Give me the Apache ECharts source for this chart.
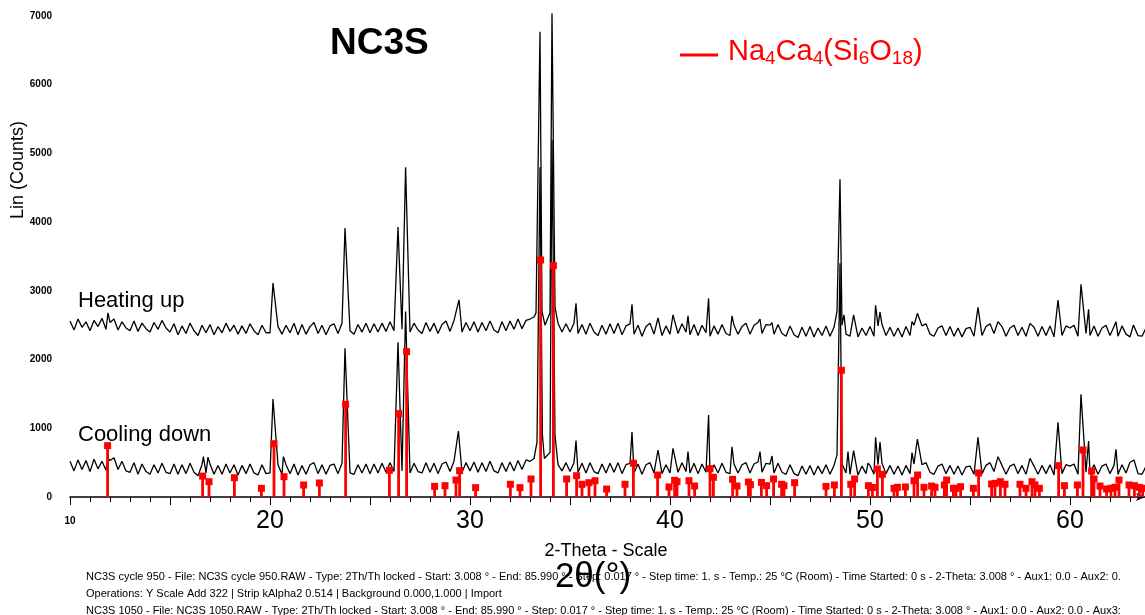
<!DOCTYPE html>
<html>
<head>
<meta charset="utf-8">
<title>NC3S</title>
<script src="https://cdn.jsdelivr.net/npm/echarts@6.0.0/dist/echarts.min.js"></script>
<style>
  html, body { margin: 0; padding: 0; background: #fff; }
  #main { width: 1145px; height: 615px; }
</style>
</head>
<body>
<div id="main"></div>
<script>
// baseline samples: 2-theta from 10.0 in steps of 0.2
var thetaStart = 10;
var thetaStep = 0.2;

var heatingBase = [
  2560,2430,2590,2470,2550,2420,2570,2480,2600,2440,2540,2590,2430,2550,2460,2420,2560,2410,2530,2450,2400,2540,2440,2570,2460,
  2400,2520,2360,2490,2380,2530,2420,2350,2500,2390,2510,2360,2480,2390,2530,2410,2500,2370,2490,2380,2520,2420,2360,2500,2390,
  2390,2520,2480,2370,2500,2390,2530,2360,2510,2370,2480,2540,2380,2500,2360,2490,2520,2380,2530,2550,2420,2370,2510,2400,2530,
  2390,2520,2400,2530,2410,2550,2420,2560,2440,2580,2400,2530,2430,2380,2540,2410,2530,2380,2510,2560,2410,2570,2450,2400,2540,
  2420,2550,2400,2540,2420,2560,2430,2390,2550,2420,2560,2440,2590,2450,2570,2590,2620,2660,2700,2540,2680,2560,2530,2400,2520,
  2400,2530,2380,2510,2370,2530,2400,2350,2500,2370,2520,2380,2530,2360,2490,2520,2370,2500,2340,2480,2530,2370,2500,2350,2490,
  2370,2510,2380,2520,2400,2360,2510,2350,2500,2390,2340,2490,2370,2510,2380,2350,2500,2370,2480,2530,2370,2500,2540,2380,2510,
  2500,2370,2510,2380,2340,2490,2360,2320,2470,2340,2480,2330,2460,2350,2490,2340,2470,2360,2500,2370,2340,2480,2330,2460,2350,
  2480,2340,2490,2510,2350,2470,2340,2460,2330,2480,2350,2500,2360,2490,2520,2370,2340,2460,2500,2350,2480,2340,2460,2330,2450,
  2470,2340,2490,2350,2480,2520,2380,2350,2480,2340,2460,2500,2350,2470,2340,2330,2470,2340,2480,2350,2490,2330,2460,2350,2490,
  2460,2500,2340,2520,2380,2350,2490,2340,2460,2500,2350,2480,2340,2490,2370,2330,2480,2350,2340,2460
];

var coolingBase = [
  520,380,540,400,530,370,550,410,520,390,530,570,400,520,380,360,500,330,480,370,330,470,350,490,360,
  340,480,330,470,340,490,360,310,470,350,480,330,460,330,480,350,470,320,460,340,480,350,320,470,340,
  350,490,470,330,470,340,480,320,460,330,470,500,340,470,330,460,480,340,490,470,350,330,470,350,480,
  340,480,350,490,360,500,370,510,380,520,350,490,370,350,500,360,490,340,480,510,370,520,390,360,500,
  380,510,360,500,370,520,380,350,500,370,510,380,530,400,540,520,560,620,700,560,650,560,470,380,500,
  370,500,360,490,350,500,370,340,480,350,490,360,500,340,470,490,350,480,330,470,500,350,480,340,470,
  350,490,360,500,370,350,490,340,480,360,330,470,350,490,360,340,480,350,470,500,350,480,510,360,490,
  480,350,490,360,330,470,340,310,450,330,460,320,450,340,470,330,460,340,480,350,330,460,320,450,340,
  460,330,470,490,340,460,330,450,320,460,340,480,350,470,500,360,330,450,480,340,460,330,450,320,440,
  450,330,470,340,460,500,370,340,460,330,450,480,340,460,330,320,450,330,460,340,470,320,450,340,470,
  450,480,330,500,360,340,470,330,450,480,340,460,330,470,350,320,460,340,330,450
];

// peak tops [2theta, counts]
var heatingPeaks = [
  [11.9, 2680], [20.15, 3115], [23.75, 3915], [26.4, 3930], [26.78, 4800],
  [29.45, 2870], [33.3, 2680], [33.5, 6770], [33.75, 2500], [34.1, 7040],
  [34.25, 2765], [35.3, 2820], [38.1, 2805], [39.4, 2605], [40.15, 2650],
  [40.9, 2635], [41.93, 2890], [43.1, 2635], [44.5, 2590], [45.1, 2537],
  [48.35, 2700], [48.5, 4624], [48.7, 2650], [49.18, 2650], [50.28, 2790],
  [50.5, 2690], [52.1, 2552], [52.37, 2673], [53.6, 2490], [55.4, 2760],
  [56.4, 2552], [58.0, 2527], [59.4, 2867], [60.55, 3095], [60.93, 2731],
  [62.3, 2552], [63.17, 2503]
];

var coolingPeaks = [
  [11.9, 568], [16.67, 587], [16.9, 580], [20.15, 1426], [20.67, 587],
  [23.75, 2164], [26.4, 2251], [26.78, 2700], [29.42, 960], [33.35, 800],
  [33.5, 4800], [33.62, 900], [33.72, 560], [34.1, 5200], [34.25, 900],
  [35.3, 820], [36.0, 500], [38.1, 945], [39.4, 684], [40.15, 708],
  [40.9, 660], [41.93, 1193], [43.1, 732], [44.5, 660], [45.1, 597],
  [48.35, 611], [48.5, 3400], [48.9, 660], [49.18, 674], [49.9, 494],
  [50.28, 869], [50.5, 800], [52.1, 645], [52.37, 844], [53.6, 480],
  [55.4, 869], [56.4, 587], [58.0, 563], [59.4, 1087], [60.55, 1495],
  [60.93, 815], [62.3, 694], [63.0, 505], [63.2, 538]
];

// Na4Ca4(Si6O18) reference lines [2theta, counts]
var refLines = [
  [11.88, 747], [16.63, 305], [16.95, 223], [18.22, 281], [19.57, 126],
  [20.2, 776], [20.7, 296], [21.68, 175], [22.47, 204], [23.78, 1349],
  [25.97, 388], [26.43, 1213], [26.83, 2115], [28.23, 155], [28.75, 165],
  [29.3, 247], [29.48, 383], [30.28, 136], [32.02, 185], [32.5, 136],
  [33.05, 262], [33.53, 3449], [34.17, 3367], [34.83, 262], [35.33, 310],
  [35.6, 185], [35.95, 208], [36.25, 237], [36.83, 116], [37.75, 185],
  [38.17, 492], [39.38, 320], [39.95, 146], [40.23, 243], [40.35, 223],
  [40.95, 237], [41.23, 160], [42.0, 412], [42.17, 287], [43.13, 257],
  [43.35, 160], [43.92, 218], [44.02, 179], [44.57, 213], [44.83, 165],
  [45.18, 262], [45.58, 185], [45.7, 165], [46.23, 208], [47.8, 155],
  [48.22, 175], [48.57, 1844], [49.04, 185], [49.23, 262], [49.92, 165],
  [50.12, 138], [50.37, 408], [50.62, 330], [51.2, 126], [51.37, 141],
  [51.77, 146], [52.2, 237], [52.38, 320], [52.7, 141], [53.08, 160],
  [53.25, 141], [53.72, 175], [53.83, 247], [54.17, 126], [54.3, 126],
  [54.53, 150], [55.17, 126], [55.43, 349], [56.08, 189], [56.25, 199],
  [56.52, 223], [56.75, 185], [57.5, 185], [57.8, 126], [58.1, 223],
  [58.25, 175], [58.47, 126], [59.43, 456], [59.72, 165], [60.37, 175],
  [60.65, 684], [61.08, 378], [61.2, 262], [61.5, 160], [61.83, 116],
  [62.05, 126], [62.25, 141], [62.45, 247], [62.95, 175], [63.22, 165],
  [63.47, 141], [63.63, 126]
];

var xLabels = ['10', '20', '30', '40', '50', '60'];

// legend formula pieces: [text, isSubscript]
var formulaParts = [['Na', 0], ['4', 1], ['Ca', 0], ['4', 1], ['(Si', 0], ['6', 1], ['O', 0], ['18', 1], [')', 0]];

var infoLines = [
  'NC3S cycle 950 - File: NC3S cycle 950.RAW - Type: 2Th/Th locked - Start: 3.008 \u00b0 - End: 85.990 \u00b0 - Step: 0.017 \u00b0 - Step time: 1. s - Temp.: 25 \u00b0C (Room) - Time Started: 0 s - 2-Theta: 3.008 \u00b0 - Aux1: 0.0 - Aux2: 0.',
  'Operations: Y Scale Add 322 | Strip kAlpha2 0.514 | Background 0.000,1.000 | Import',
  'NC3S 1050 - File: NC3S 1050.RAW - Type: 2Th/Th locked - Start: 3.008 \u00b0 - End: 85.990 \u00b0 - Step: 0.017 \u00b0 - Step time: 1. s - Temp.: 25 \u00b0C (Room) - Time Started: 0 s - 2-Theta: 3.008 \u00b0 - Aux1: 0.0 - Aux2: 0.0 - Aux3:'
];

var FONT = 'Liberation Sans, Arial, sans-serif';
var RED = '#ff0000';

// merge baseline samples and peak tops into one sorted trace
function buildTrace(base, peaks) {
  var pts = [];
  base.forEach(function (v, i) {
    var t = +(thetaStart + i * thetaStep).toFixed(2);
    var near = peaks.some(function (p) { return Math.abs(p[0] - t) < 0.07; });
    if (!near) pts.push([t, v]);
  });
  return pts.concat(peaks).sort(function (a, b) { return a[0] - b[0]; });
}

// formula text with real subscripts, laid out piece by piece
function formulaGraphics(x0, yMain, ySub) {
  var ctx = document.createElement('canvas').getContext('2d');
  var out = [];
  var x = x0;
  formulaParts.forEach(function (p) {
    var font = p[1] ? '19px ' + FONT : '29px ' + FONT;
    ctx.font = font;
    out.push({
      type: 'text', x: x, y: p[1] ? ySub : yMain,
      style: { text: p[0], font: font, fill: RED, verticalAlign: 'middle' }
    });
    x += ctx.measureText(p[0]).width;
  });
  return out;
}

var chart = echarts.init(document.getElementById('main'));

var option = {
  backgroundColor: '#fff',
  animation: false,
  grid: { left: 70, right: 0, top: 16, bottom: 118 },
  xAxis: {
    type: 'value',
    min: 10,
    max: 63.75,
    interval: 5,
    axisLine: {
      lineStyle: { color: '#000', width: 1.5 },
      symbol: ['none', 'arrow'],
      symbolSize: [6, 9]
    },
    axisTick: { length: 8, lineStyle: { color: '#000', width: 1 } },
    minorTick: { show: true, splitNumber: 5, length: 5, lineStyle: { color: '#000', width: 1 } },
    splitLine: { show: false },
    axisLabel: {
      margin: 11,
      showMaxLabel: false,
      formatter: function (v) {
        var s = String(Math.round(v));
        if (xLabels.indexOf(s) < 0 || Math.abs(v - Math.round(v)) > 1e-6) return '';
        return s === '10' ? '{s|' + s + '}' : '{b|' + s + '}';
      },
      rich: {
        s: { fontSize: 10, fontWeight: 'bold', fontFamily: FONT, color: '#000', lineHeight: 26 },
        b: { fontSize: 25, fontFamily: FONT, color: '#000', lineHeight: 26 }
      }
    }
  },
  yAxis: {
    type: 'value',
    min: 0,
    max: 7000,
    interval: 1000,
    axisLine: { show: false },
    axisTick: { show: false },
    splitLine: { show: false },
    axisLabel: {
      color: '#000', fontSize: 10, fontWeight: 'bold', fontFamily: FONT, margin: 18,
      formatter: function (v) { return String(v); }
    }
  },
  series: [
    {
      name: 'Heating up',
      type: 'line',
      data: buildTrace(heatingBase, heatingPeaks),
      showSymbol: false,
      clip: false,
      lineStyle: { color: '#000', width: 1.3 },
      z: 2
    },
    {
      name: 'Cooling down',
      type: 'line',
      data: buildTrace(coolingBase, coolingPeaks),
      showSymbol: false,
      clip: false,
      lineStyle: { color: '#000', width: 1.3 },
      z: 2
    },
    {
      name: 'Na4Ca4(Si6O18)',
      type: 'custom',
      data: refLines,
      encode: { x: 0, y: 1 },
      z: 3,
      renderItem: function (params, api) {
        var top = api.coord([api.value(0), api.value(1)]);
        var bot = api.coord([api.value(0), 0]);
        return {
          type: 'group',
          children: [
            { type: 'rect', shape: { x: top[0] - 1.4, y: top[1], width: 2.8, height: bot[1] - top[1] }, style: { fill: RED } },
            { type: 'rect', shape: { x: top[0] - 3.5, y: top[1] - 3.5, width: 7, height: 7 }, style: { fill: RED } }
          ]
        };
      }
    }
  ],
  graphic: [
    { type: 'text', left: 330, top: 25, style: { text: 'NC3S', font: 'bold 37px ' + FONT, fill: '#000' } },
    { type: 'line', shape: { x1: 680, y1: 55, x2: 718, y2: 55 }, style: { stroke: RED, lineWidth: 3 } },
    { type: 'text', left: 78, top: 290, style: { text: 'Heating up', font: '22px ' + FONT, fill: '#000' } },
    { type: 'text', left: 78, top: 424, style: { text: 'Cooling down', font: '22px ' + FONT, fill: '#000' } },
    { type: 'text', x: 18, y: 170, rotation: Math.PI / 2, style: { text: 'Lin (Counts)', font: '18px ' + FONT, fill: '#000', align: 'center', verticalAlign: 'middle' } },
    { type: 'text', x: 606, y: 551, style: { text: '2-Theta - Scale', font: '18px ' + FONT, fill: '#000', align: 'center', verticalAlign: 'middle' } },
    { type: 'text', x: 593, y: 577, z: 10, style: { text: '2\u03b8(\u00b0)', font: '35px ' + FONT, fill: '#000', align: 'center', verticalAlign: 'middle' } },
    { type: 'text', left: 86, top: 571, style: { text: infoLines[0], font: '11px ' + FONT, fill: '#000' } },
    { type: 'text', left: 86, top: 588, style: { text: infoLines[1], font: '11px ' + FONT, fill: '#000' } },
    { type: 'text', left: 86, top: 605, style: { text: infoLines[2], font: '11px ' + FONT, fill: '#000' } }
  ].concat(formulaGraphics(728, 52, 59))
};

chart.setOption(option);
</script>
</body>
</html>
